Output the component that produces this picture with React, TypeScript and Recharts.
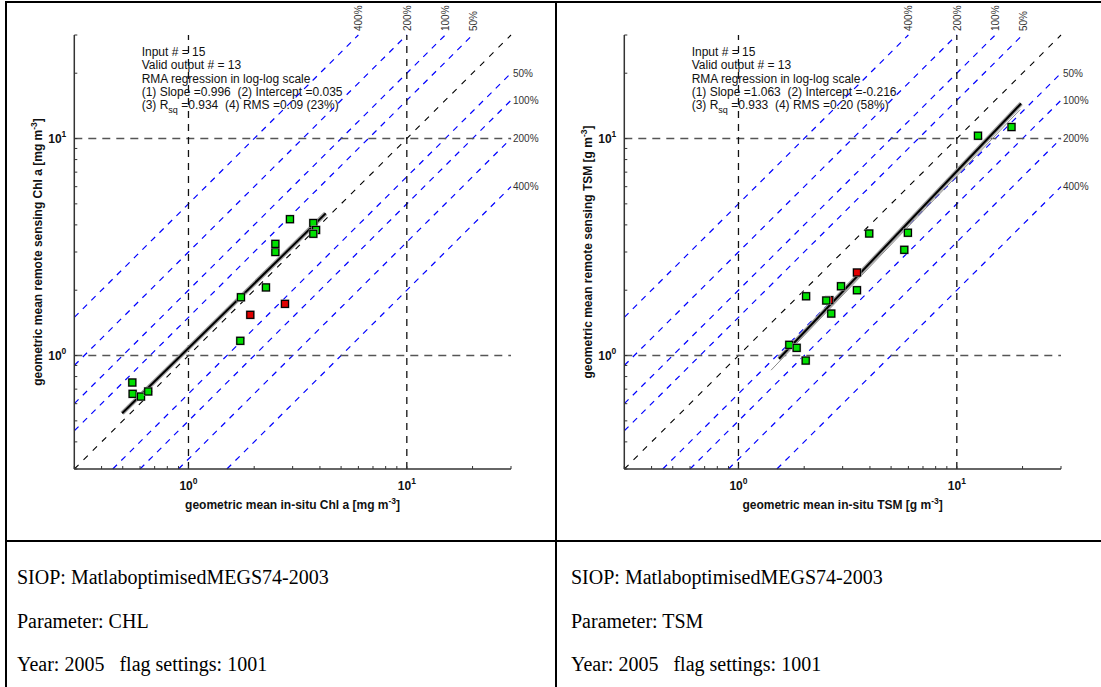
import React from "react";
import { ScatterChart, Scatter, XAxis, YAxis, ReferenceLine, Customized } from "recharts";

const SANS = "'Liberation Sans', Arial, Helvetica, sans-serif";
const SERIF = "'Liberation Serif', 'Times New Roman', serif";

// axis range shared by both panels (log-log)
const LO = 0.3;
const HI = 30;
const logTicks = [0.3, 0.4, 0.5, 0.6, 0.7, 0.8, 0.9, 1, 2, 3, 4, 5, 6, 7, 8, 9, 10, 20, 30];
const labelledTicks = [1, 10];
const gridValues = [1, 10];
const pctLevels = [0.5, 1, 2, 4]; // 50%, 100%, 200%, 400% difference lines

// ---- CHL panel ----
const chlInSitu = [0.553, 0.555, 0.606, 0.654, 1.727, 1.739, 2.264, 2.5, 2.5, 2.916, 3.73, 3.84, 3.73];
const chlRemote = [0.751, 0.666, 0.647, 0.683, 1.169, 1.856, 2.06, 3.0, 3.27, 4.25, 4.08, 3.79, 3.64];
const chlFlagInSitu = [1.919, 2.767];
const chlFlagRemote = [1.54, 1.73];
const chlFitX = [0.497, 4.25];
const chlFitY = [0.542, 4.52];
const chlStats = [
  "Input # = 15",
  "Valid output # = 13",
  "RMA regression in log-log scale",
  "(1) Slope =0.996  (2) Intercept =0.035",
  "(3) R_sq =0.934  (4) RMS =0.09 (23%)",
];

// ---- TSM panel ----
const tsmInSitu = [1.709, 1.847, 2.032, 2.04, 2.524, 2.66, 2.948, 3.489, 3.97, 5.745, 5.97, 12.5, 17.8];
const tsmRemote = [1.12, 1.085, 0.948, 1.876, 1.793, 1.561, 2.086, 2.0, 3.65, 3.07, 3.68, 10.3, 11.3];
const tsmFlagInSitu = [2.606, 3.489];
const tsmFlagRemote = [1.8, 2.413];
const tsmFitX = [1.533, 19.7];
const tsmFitY = [0.966, 14.5];
const tsmAltFitX = [1.41, 19.5];
const tsmAltFitY = [0.856, 13.6];
const tsmStats = [
  "Input # = 15",
  "Valid output # = 13",
  "RMA regression in log-log scale",
  "(1) Slope =1.063  (2) Intercept =-0.216",
  "(3) R_sq =0.933  (4) RMS =0.20 (58%)",
];

const footerLines = [
  ["SIOP: MatlaboptimisedMEGS74-2003", "Parameter: CHL", "Year: 2005   flag settings: 1001"],
  ["SIOP: MatlaboptimisedMEGS74-2003", "Parameter: TSM", "Year: 2005   flag settings: 1001"],
];

const toPoints = (xs: number[], ys: number[]) => xs.map((x, i) => ({ x, y: ys[i] }));

function XTick(props: any) {
  const { x, y, payload } = props;
  const v = payload.value;
  const major = labelledTicks.includes(v);
  return (
    <g>
      <line x1={x} x2={x} y1={y} y2={y - 3} stroke="#333" strokeWidth={1} />
      {major && (
        <text x={x} y={y + 21} textAnchor="middle" fontSize={12} fontWeight="bold" fill="#111" fontFamily={SANS}>
          10<tspan dy={-6} fontSize={8.5}>{Math.round(Math.log10(v))}</tspan>
        </text>
      )}
    </g>
  );
}

function YTick(props: any) {
  const { x, y, payload } = props;
  const v = payload.value;
  const major = labelledTicks.includes(v);
  return (
    <g>
      <line x1={x} x2={x + 3} y1={y} y2={y} stroke="#333" strokeWidth={1} />
      {major && (
        <text x={x - 8} y={y + 4} textAnchor="end" fontSize={12} fontWeight="bold" fill="#111" fontFamily={SANS}>
          10<tspan dy={-6} fontSize={8.5}>{Math.round(Math.log10(v))}</tspan>
        </text>
      )}
    </g>
  );
}

const squareShape = (fill: string) => (props: any) => {
  const { cx, cy } = props;
  return (
    <g>
      <rect x={cx - 4.5} y={cy - 4.5} width={9} height={9} fill="#b0b0b0" />
      <rect x={cx - 3.5} y={cy - 3.5} width={7} height={7} fill={fill} stroke="#000" strokeWidth={1.2} />
    </g>
  );
};

const topLabel = (props: any) => (
  <text
    x={props.cx + 4}
    y={props.cy - 4}
    transform={`rotate(-90 ${props.cx + 4} ${props.cy - 4})`}
    fontSize={10}
    fill="#333"
    fontFamily={SANS}
  >
    {props.payload.text}
  </text>
);

const sideLabel = (props: any) => (
  <text x={props.cx + 2} y={props.cy + 3.5} fontSize={10} fill="#333" fontFamily={SANS}>
    {props.payload.text}
  </text>
);

function StatsText({ lines }: { lines: string[] }) {
  return (
    <g fontFamily={SANS} fontSize={12} fill="#111">
      {lines.map((line, i) => {
        const y = 56 + i * 13.3;
        const parts = line.split("_sq");
        return (
          <text key={i} x={141.7} y={y} style={{ whiteSpace: "pre" }}>
            {parts[0]}
            {parts.length > 1 && (
              <>
                <tspan dy={4} fontSize={9}>sq</tspan>
                <tspan dy={-4}>{parts[1]}</tspan>
              </>
            )}
          </text>
        );
      })}
    </g>
  );
}

function AxisTitles({ xTitle, yTitle }: { xTitle: string; yTitle: string }) {
  return (
    <g fontFamily={SANS} fontSize={12} fontWeight="bold" fill="#111">
      <text x={292.6} y={509} textAnchor="middle">
        {xTitle} [{xTitle.includes("TSM") ? "g" : "mg"} m<tspan dy={-5} fontSize={8.5}>-3</tspan>
        <tspan dy={5}>]</tspan>
      </text>
      <text x={42} y={252} textAnchor="middle" transform="rotate(-90 42 252)">
        {yTitle} [{yTitle.includes("TSM") ? "g" : "mg"} m<tspan dy={-5} fontSize={8.5}>-3</tspan>
        <tspan dy={5}>]</tspan>
      </text>
    </g>
  );
}

type PanelProps = {
  left: number;
  inSitu: number[];
  remote: number[];
  flagX: number[];
  flagY: number[];
  fitX: number[];
  fitY: number[];
  altFitX?: number[];
  altFitY?: number[];
  stats: string[];
  xTitle: string;
  yTitle: string;
};

function Panel(p: PanelProps) {
  const good = toPoints(p.inSitu, p.remote);
  const flagged = toPoints(p.flagX, p.flagY);
  const fit = toPoints(p.fitX, p.fitY);
  const upperLabels = pctLevels.map((lv) => ({ x: HI / (1 + lv), y: HI, text: `${lv * 100}%` }));
  const sideLabels = pctLevels.map((lv) => ({ x: HI, y: HI / (1 + lv), text: `${lv * 100}%` }));
  const axisStyle = { stroke: "#333", strokeWidth: 1.5 };

  return (
    <div style={{ position: "absolute", left: p.left, top: 0 }}>
      <ScatterChart width={550} height={540} margin={{ top: 35, right: 39, bottom: 0, left: 0 }}>
        <XAxis
          type="number"
          dataKey="x"
          scale="log"
          domain={[LO, HI]}
          ticks={logTicks}
          interval={0}
          tick={XTick}
          tickSize={0}
          tickMargin={0}
          tickLine={false}
          height={71}
          axisLine={axisStyle}
        />
        <YAxis
          type="number"
          dataKey="y"
          scale="log"
          domain={[LO, HI]}
          ticks={logTicks}
          interval={0}
          tick={YTick}
          tickSize={0}
          tickMargin={0}
          tickLine={false}
          width={74.3}
          axisLine={axisStyle}
        />
        {pctLevels.map((lv) => (
          <ReferenceLine
            key={`up${lv}`}
            segment={[{ x: LO, y: LO * (1 + lv) }, { x: HI / (1 + lv), y: HI }]}
            stroke="#0000ff"
            strokeWidth={1.2}
            strokeDasharray="6 6"
            ifOverflow="visible"
          />
        ))}
        {pctLevels.map((lv) => (
          <ReferenceLine
            key={`dn${lv}`}
            segment={[{ x: LO * (1 + lv), y: LO }, { x: HI, y: HI / (1 + lv) }]}
            stroke="#0000ff"
            strokeWidth={1.2}
            strokeDasharray="6 6"
            ifOverflow="visible"
          />
        ))}
        <ReferenceLine segment={[{ x: LO, y: LO }, { x: HI, y: HI }]} stroke="#000" strokeWidth={1.1} strokeDasharray="6 7" ifOverflow="visible" />
        {gridValues.map((v) => (
          <ReferenceLine key={`gy${v}`} y={v} stroke="#555" strokeWidth={1.6} strokeDasharray="8 6" />
        ))}
        {gridValues.map((v) => (
          <ReferenceLine key={`gx${v}`} x={v} stroke="#111" strokeWidth={1.3} strokeDasharray="7 6" />
        ))}
        {p.altFitX && p.altFitY && (
          <ReferenceLine
            segment={toPoints(p.altFitX, p.altFitY)}
            stroke="#8a8a8a"
            strokeWidth={1}
            ifOverflow="visible"
          />
        )}
        <ReferenceLine segment={fit} stroke="#a0a0a0" strokeWidth={4.5} ifOverflow="visible" />
        <ReferenceLine segment={fit} stroke="#000" strokeWidth={2} ifOverflow="visible" />
        <Scatter data={flagged} shape={squareShape("#e00000")} isAnimationActive={false} />
        <Scatter data={good} shape={squareShape("#00e000")} isAnimationActive={false} />
        <Scatter data={upperLabels} shape={topLabel} isAnimationActive={false} />
        <Scatter data={sideLabels} shape={sideLabel} isAnimationActive={false} />
        <Customized component={() => <StatsText lines={p.stats} />} />
        <Customized component={() => <AxisTitles xTitle={p.xTitle} yTitle={p.yTitle} />} />
      </ScatterChart>
    </div>
  );
}

export default function App() {
  return (
    <div style={{ position: "absolute", left: 0, top: 0, width: 1101, height: 687, background: "#fff", overflow: "hidden" }}>
      <svg width={1101} height={687} style={{ position: "absolute", left: 0, top: 0 }}>
        <rect x={5} y={1} width={1096} height={2} fill="#000" />
        <rect x={5} y={1} width={2} height={686} fill="#000" />
        <rect x={555} y={1} width={2} height={686} fill="#000" />
        <rect x={5} y={540} width={1096} height={2} fill="#000" />
        {footerLines.map((col, c) =>
          col.map((line, r) => (
            <text
              key={`${c}-${r}`}
              x={c === 0 ? 17 : 571}
              y={584 + r * 43.5}
              fontFamily={SERIF}
              fontSize={20}
              fill="#000"
              style={{ whiteSpace: "pre" }}
            >
              {line}
            </text>
          ))
        )}
      </svg>
      <Panel
        left={0}
        inSitu={chlInSitu}
        remote={chlRemote}
        flagX={chlFlagInSitu}
        flagY={chlFlagRemote}
        fitX={chlFitX}
        fitY={chlFitY}
        stats={chlStats}
        xTitle="geometric mean in-situ Chl a"
        yTitle="geometric mean remote sensing Chl a"
      />
      <Panel
        left={550}
        inSitu={tsmInSitu}
        remote={tsmRemote}
        flagX={tsmFlagInSitu}
        flagY={tsmFlagRemote}
        fitX={tsmFitX}
        fitY={tsmFitY}
        altFitX={tsmAltFitX}
        altFitY={tsmAltFitY}
        stats={tsmStats}
        xTitle="geometric mean in-situ TSM"
        yTitle="geometric mean remote sensing TSM"
      />
    </div>
  );
}
